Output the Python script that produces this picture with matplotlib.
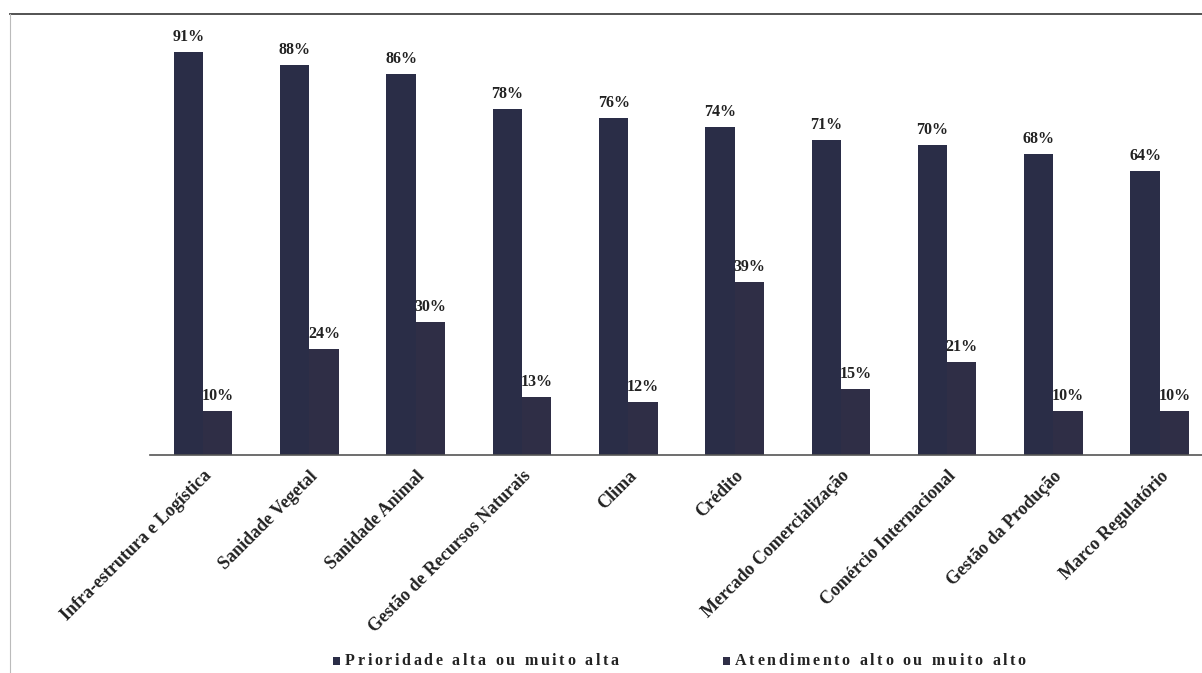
"""Prioridade vs atendimento por tema (recriação de gráfico escaneado)."""

import matplotlib
matplotlib.use("Agg")
import matplotlib.pyplot as plt
import numpy as np
from matplotlib.lines import Line2D
from matplotlib.patches import Rectangle

temas = [
    "Infra-estrutura e Logística", "Sanidade Vegetal", "Sanidade Animal",
    "Gestão de Recursos Naturais", "Clima", "Crédito",
    "Mercado Comercialização", "Comércio Internacional",
    "Gestão da Produção", "Marco Regulatório",
]
prioridade = [91, 88, 86, 78, 76, 74, 71, 70, 68, 64]
atendimento = [10, 24, 30, 13, 12, 39, 15, 21, 10, 10]
series_names = ["Prioridade alta ou muito alta", "Atendimento alto ou muito alto"]

COR_PRIO = "#2a2d47"
COR_ATEN = "#2f2e46"
SERIF = ["Liberation Serif", "DejaVu Serif"]

W, H = 1202, 673
fig = plt.figure(figsize=(W / 100, H / 100), dpi=100)
fig.patch.set_facecolor("white")

# axes: baseline at y=455 px, top at y=14 px, left at x=150 px
ax = fig.add_axes([150 / W, 1 - 455 / H, (W - 150) / W, (455 - 14) / H])
x = np.arange(len(temas))
bw = 0.275
b1 = ax.bar(x - bw / 2, prioridade, bw, color=COR_PRIO, label=series_names[0])
b2 = ax.bar(x + bw / 2, atendimento, bw, color=COR_ATEN, label=series_names[1])

for bars, vals in ((b1, prioridade), (b2, atendimento)):
    for bar, v in zip(bars, vals):
        ax.annotate(f"{v}%", (bar.get_x() + bar.get_width() / 2, v),
                    xytext=(0, 5), textcoords="offset points",
                    ha="center", va="bottom", fontsize=11.5,
                    fontweight="bold", family=SERIF, color="#222222")

ax.set_xlim(-0.5, (W - 203) / 106.3)
ax.set_ylim(0, 99.5)
ax.set_yticks([])
ax.set_xticks(x)
ax.set_xticklabels(temas, rotation=45, ha="right", rotation_mode="anchor",
                   fontsize=13, fontweight="bold", family=SERIF, color="#222222")
ax.tick_params(axis="x", length=0, pad=9)
for s in ("top", "right", "left"):
    ax.spines[s].set_visible(False)
ax.spines["bottom"].set_color("#555555")
ax.spines["bottom"].set_linewidth(1.2)

# frame lines of the scanned chart area
fig.add_artist(Line2D([10 / W, 1], [1 - 14 / H, 1 - 14 / H], color="#444444", lw=1.3))
fig.add_artist(Line2D([10 / W, 10 / W], [1 - 14 / H, 0], color="#bbbbbb", lw=0.8))

# legend with letter-spaced text, laid out char by char
renderer = fig.canvas.get_renderer()
y_leg = 1 - 661 / H
for x0, name, col in ((333, series_names[0], COR_PRIO), (723, series_names[1], COR_ATEN)):
    fig.add_artist(Rectangle((x0 / W, y_leg - 3.5 / H), 7 / W, 8 / H,
                             transform=fig.transFigure, color=col, lw=0))
    xp = x0 + 12
    for ch in name:
        t = fig.text(xp / W, y_leg, ch, ha="left", va="center", fontsize=11.5,
                     fontweight="bold", family=SERIF, color="#222222")
        if ch == " ":
            xp += 7
        else:
            xp += t.get_window_extent(renderer).width + 2.6

fig.savefig("out.png", dpi=100, facecolor="white")
